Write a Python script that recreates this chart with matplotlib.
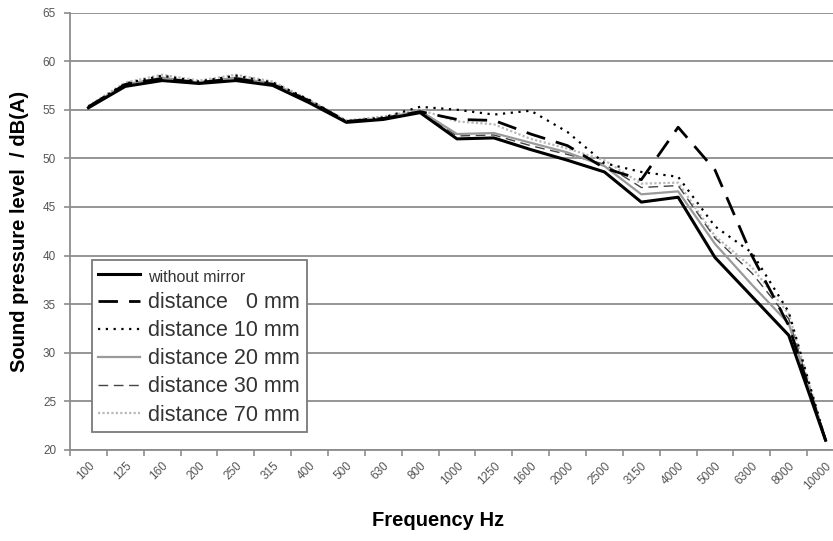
import matplotlib.pyplot as plt
import numpy as np

plt.rcParams['font.family'] = ['Liberation Sans', 'DejaVu Sans']

# third-octave bands
freqs = ['100', '125', '160', '200', '250', '315', '400', '500', '630', '800',
         '1000', '1250', '1600', '2000', '2500', '3150', '4000', '5000',
         '6300', '8000', '10000']

# sound pressure level / dB(A)
without_mirror = [55.2, 57.4, 58.0, 57.7, 58.0, 57.5, 55.7, 53.7, 54.0, 54.7,
                  52.0, 52.1, 50.9, 49.8, 48.6, 45.5, 46.0, 39.8, 35.8, 31.8, 21.0]
dist_0 = [55.3, 57.6, 58.2, 57.8, 58.2, 57.6, 55.9, 53.8, 54.1, 54.8,
          54.0, 53.9, 52.5, 51.3, 49.0, 47.8, 53.2, 48.8, 40.0, 32.8, 21.0]
dist_10 = [55.3, 57.7, 58.5, 57.9, 58.5, 57.8, 56.0, 53.8, 54.2, 55.3,
           55.0, 54.5, 54.9, 52.7, 49.5, 48.6, 48.1, 43.0, 40.3, 34.2, 21.0]
dist_20 = [55.3, 57.6, 58.3, 57.8, 58.3, 57.7, 55.9, 53.8, 54.1, 54.9,
           52.5, 52.6, 51.6, 50.6, 49.2, 46.3, 46.6, 41.2, 37.0, 33.0, 21.0]
dist_30 = [55.3, 57.6, 58.3, 57.8, 58.3, 57.7, 55.9, 53.8, 54.1, 54.8,
           52.3, 52.4, 51.3, 50.4, 49.4, 47.0, 47.2, 41.8, 38.2, 33.5, 21.0]
dist_70 = [55.4, 57.8, 58.6, 58.0, 58.6, 57.9, 56.0, 53.9, 54.3, 55.0,
           53.8, 53.5, 52.0, 51.0, 49.8, 47.4, 47.5, 42.0, 38.8, 34.0, 21.0]

x = np.arange(len(freqs))

fig = plt.figure(figsize=(8.33, 5.41), dpi=100)
ax = fig.add_axes([70 / 833, 91 / 541, 774 / 833, 437.5 / 541])

# grid first so the curves sit on top
for yv in range(20, 70, 5):
    ax.axhline(yv, color='#8c8c8c', lw=1.3, zorder=1)

ax.plot(x, dist_70, color='#b8b8b8', lw=1.6, linestyle=(0, (1, 1)), label='distance 70 mm', zorder=3)
ax.plot(x, dist_30, color='#444444', lw=1.0, linestyle=(0, (7, 4)), label='distance 30 mm', zorder=3)
ax.plot(x, dist_20, color='#9a9a9a', lw=1.6, label='distance 20 mm', zorder=3)
ax.plot(x, dist_10, color='black', lw=1.6, linestyle=(0, (1, 2.5)), label='distance 10 mm', zorder=4)
ax.plot(x, dist_0, color='black', lw=2.0, linestyle=(0, (7, 4)), label='distance   0 mm', zorder=4)
ax.plot(x, without_mirror, color='black', lw=2.2, label='without mirror', zorder=5)

ax.set_xlim(-0.5, len(freqs) - 0.5)
ax.set_ylim(20, 65)

# category boundaries get tick marks, labels sit at the centres
ax.set_xticks(np.arange(len(freqs) + 1) - 0.5)
ax.set_xticklabels([])
ax.set_xticks(x, minor=True)
ax.set_xticklabels(freqs, minor=True, rotation=45, ha='right', va='top',
                   rotation_mode='anchor', fontsize=8.5, color='#555555')
ax.tick_params(axis='x', which='major', length=4, color='#8c8c8c', width=1.2)
ax.tick_params(axis='x', which='minor', length=0, pad=7)
ax.set_yticks(range(20, 70, 5))
ax.tick_params(axis='y', length=4, color='#8c8c8c', width=1.2, labelsize=8.5,
               labelcolor='#555555', pad=6)

for s in ['top', 'right']:
    ax.spines[s].set_visible(False)
for s in ['left', 'bottom']:
    ax.spines[s].set_color('#8c8c8c')
    ax.spines[s].set_linewidth(1.3)

ax.set_ylabel('Sound pressure level  / dB(A)', fontsize=14.5, fontweight='bold', labelpad=10)
fig.text(438 / 833, 21 / 541, 'Frequency Hz', fontsize=14.5, fontweight='bold',
         ha='center', va='center')

handles, labels = ax.get_legend_handles_labels()
order = [5, 4, 3, 2, 1, 0]
leg = ax.legend([handles[i] for i in order], [labels[i] for i in order],
                loc='lower left', bbox_to_anchor=(22 / 774, 18 / 437.5),
                borderaxespad=0, fontsize=15.5, handlelength=1.95, handletextpad=0.37,
                labelspacing=0.33, fancybox=False, framealpha=1,
                edgecolor='#7a7a7a', borderpad=0.3)
leg.get_frame().set_linewidth(1.3)
leg.set_zorder(6)
for t in leg.get_texts():
    t.set_color('#333333')
leg.get_texts()[0].set_fontsize(11.5)

fig.savefig('out.png', dpi=100)
